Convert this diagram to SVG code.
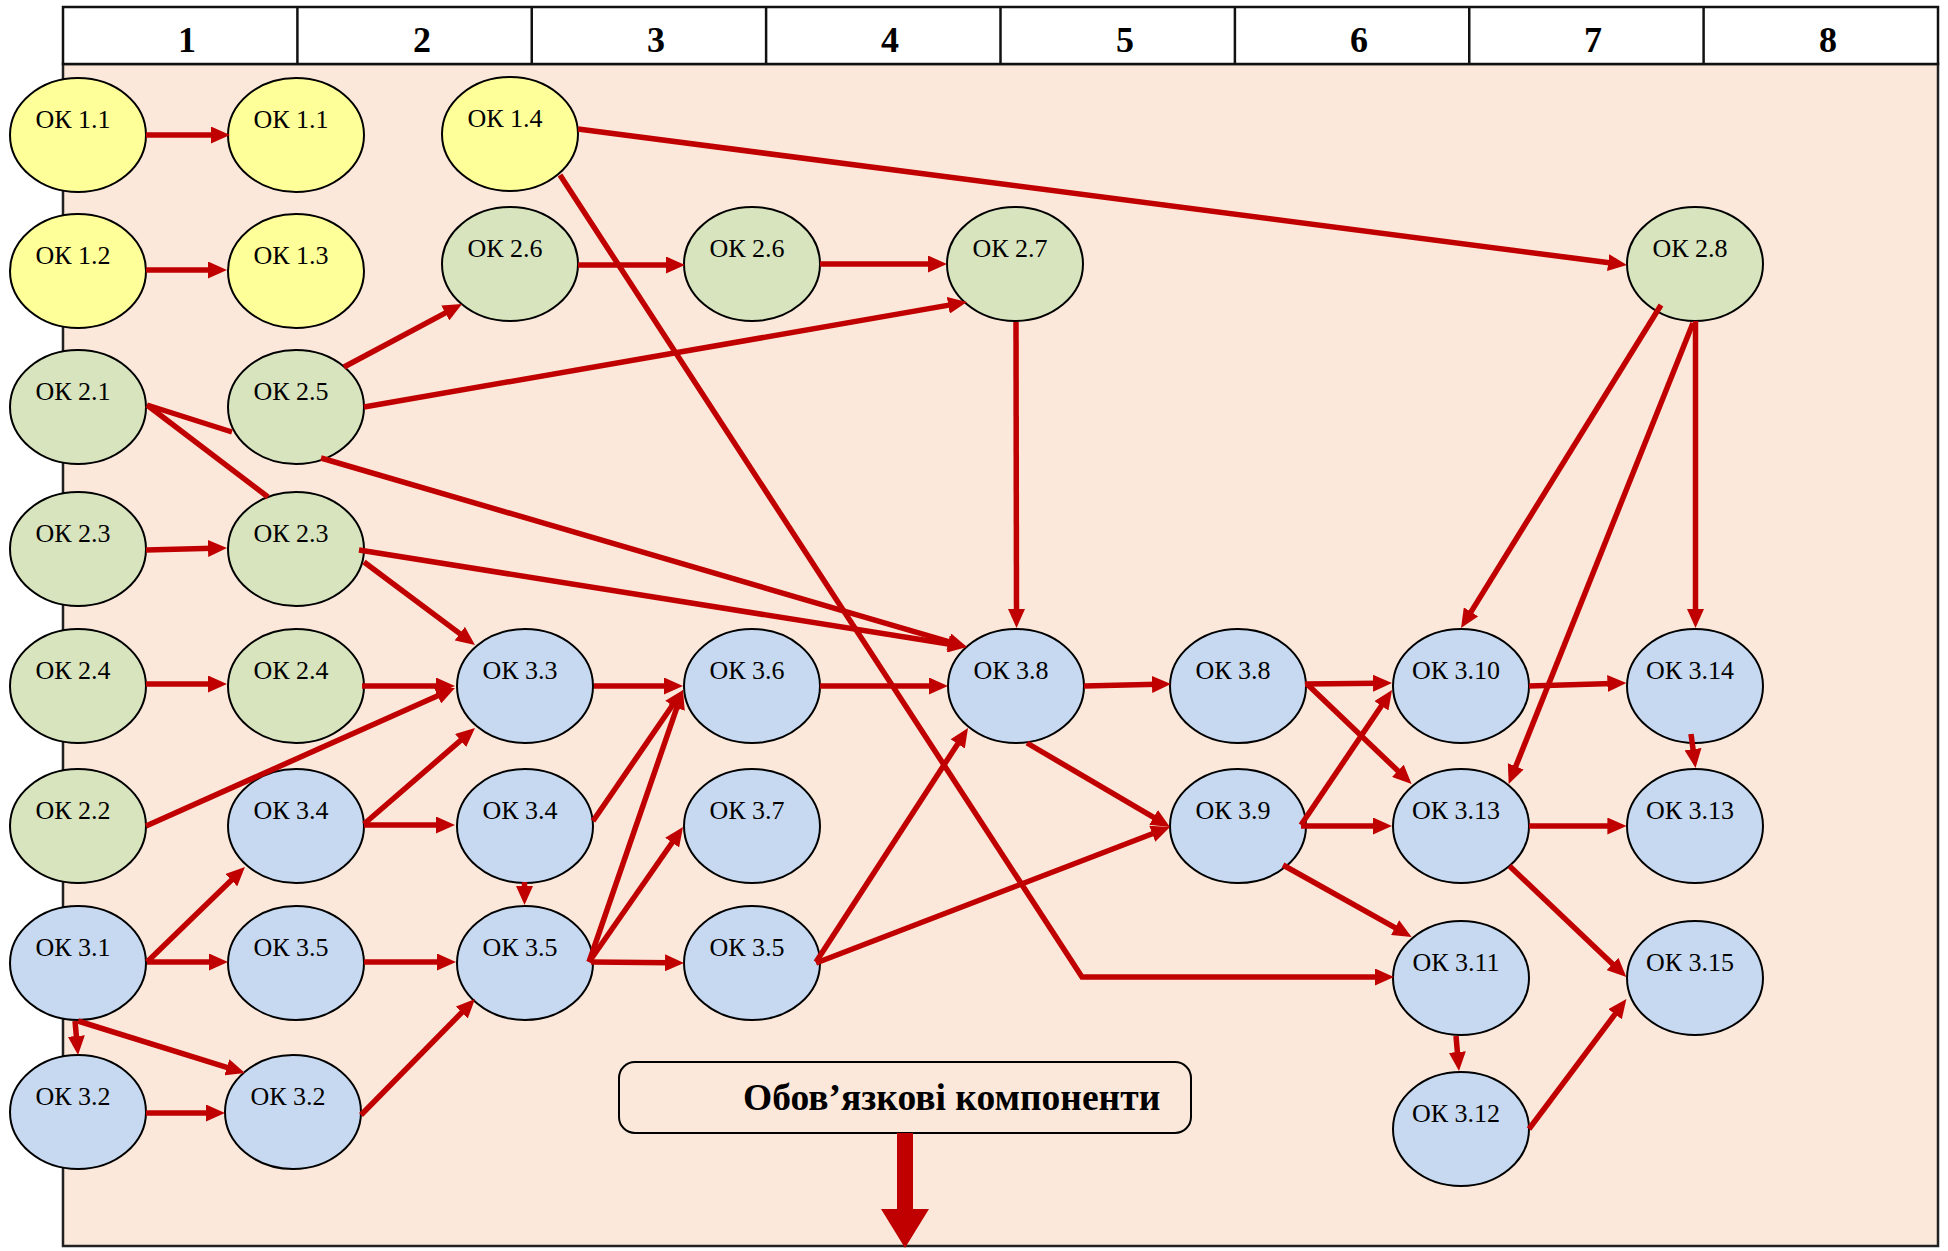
<svg xmlns="http://www.w3.org/2000/svg" width="1948" height="1251" viewBox="0 0 1948 1251">
<style>
.hdr{font-family:"Liberation Serif","Times New Roman",serif;font-size:36px;font-weight:bold;text-anchor:middle;fill:#000}
.lbl{font-family:"Liberation Serif","Times New Roman",serif;font-size:26px;text-anchor:middle;fill:#000}
.node ellipse{stroke:#000;stroke-width:2}
.y ellipse{fill:#FFFF99}
.g ellipse{fill:#D7E4BD}
.b ellipse{fill:#C6D9F1}
.c{fill:none;stroke:#C00000;stroke-width:5.5;stroke-linejoin:miter}
.a{marker-end:url(#ah)}
</style>
<defs>
<marker id="ah" markerUnits="userSpaceOnUse" markerWidth="19" markerHeight="17" refX="5" refY="8.5" orient="auto" viewBox="0 0 19 17">
<path d="M0,0 L19,8.5 L0,17 Z" fill="#C00000"/>
</marker>
</defs>
<rect x="0" y="0" width="1948" height="1251" fill="#fff"/>
<g id="table">
<rect x="63" y="64" width="1875" height="1182" fill="#FCE8DA" stroke="#222" stroke-width="2.5"/>
<rect x="63" y="7" width="1875" height="57" fill="#fff" stroke="#111" stroke-width="2.5"/>
<g stroke="#111" stroke-width="2.5">
<line x1="297.4" y1="7" x2="297.4" y2="64"/>
<line x1="531.75" y1="7" x2="531.75" y2="64"/>
<line x1="766.1" y1="7" x2="766.1" y2="64"/>
<line x1="1000.5" y1="7" x2="1000.5" y2="64"/>
<line x1="1234.9" y1="7" x2="1234.9" y2="64"/>
<line x1="1469.25" y1="7" x2="1469.25" y2="64"/>
<line x1="1703.6" y1="7" x2="1703.6" y2="64"/>
</g>
<text class="hdr" x="187" y="52">1</text>
<text class="hdr" x="422" y="52">2</text>
<text class="hdr" x="656" y="52">3</text>
<text class="hdr" x="890" y="52">4</text>
<text class="hdr" x="1125" y="52">5</text>
<text class="hdr" x="1359" y="52">6</text>
<text class="hdr" x="1593" y="52">7</text>
<text class="hdr" x="1828" y="52">8</text>
</g>
<g id="nodes">
<g id="a11" class="node y"><ellipse cx="78" cy="135" rx="68" ry="57"/><text class="lbl" x="73" y="128">ОК 1.1</text></g>
<g id="a12" class="node y"><ellipse cx="78" cy="271" rx="68" ry="57"/><text class="lbl" x="73" y="264">ОК 1.2</text></g>
<g id="a21" class="node g"><ellipse cx="78" cy="407" rx="68" ry="57"/><text class="lbl" x="73" y="400">ОК 2.1</text></g>
<g id="a23" class="node g"><ellipse cx="78" cy="549" rx="68" ry="57"/><text class="lbl" x="73" y="542">ОК 2.3</text></g>
<g id="a24" class="node g"><ellipse cx="78" cy="686" rx="68" ry="57"/><text class="lbl" x="73" y="679">ОК 2.4</text></g>
<g id="a22" class="node g"><ellipse cx="78" cy="826" rx="68" ry="57"/><text class="lbl" x="73" y="819">ОК 2.2</text></g>
<g id="a31" class="node b"><ellipse cx="78" cy="963" rx="68" ry="57"/><text class="lbl" x="73" y="956">ОК 3.1</text></g>
<g id="a32" class="node b"><ellipse cx="78" cy="1112" rx="68" ry="57"/><text class="lbl" x="73" y="1105">ОК 3.2</text></g>

<g id="b11" class="node y"><ellipse cx="296" cy="135" rx="68" ry="57"/><text class="lbl" x="291" y="128">ОК 1.1</text></g>
<g id="b13" class="node y"><ellipse cx="296" cy="271" rx="68" ry="57"/><text class="lbl" x="291" y="264">ОК 1.3</text></g>
<g id="b25" class="node g"><ellipse cx="296" cy="407" rx="68" ry="57"/><text class="lbl" x="291" y="400">ОК 2.5</text></g>
<g id="b23" class="node g"><ellipse cx="296" cy="549" rx="68" ry="57"/><text class="lbl" x="291" y="542">ОК 2.3</text></g>
<g id="b24" class="node g"><ellipse cx="296" cy="686" rx="68" ry="57"/><text class="lbl" x="291" y="679">ОК 2.4</text></g>
<g id="b34" class="node b"><ellipse cx="296" cy="826" rx="68" ry="57"/><text class="lbl" x="291" y="819">ОК 3.4</text></g>
<g id="b35" class="node b"><ellipse cx="296" cy="963" rx="68" ry="57"/><text class="lbl" x="291" y="956">ОК 3.5</text></g>
<g id="b32" class="node b"><ellipse cx="293" cy="1112" rx="68" ry="57"/><text class="lbl" x="288" y="1105">ОК 3.2</text></g>

<g id="c14" class="node y"><ellipse cx="510" cy="134" rx="68" ry="57"/><text class="lbl" x="505" y="127">ОК 1.4</text></g>
<g id="c26" class="node g"><ellipse cx="510" cy="264" rx="68" ry="57"/><text class="lbl" x="505" y="257">ОК 2.6</text></g>
<g id="c33" class="node b"><ellipse cx="525" cy="686" rx="68" ry="57"/><text class="lbl" x="520" y="679">ОК 3.3</text></g>
<g id="c34" class="node b"><ellipse cx="525" cy="826" rx="68" ry="57"/><text class="lbl" x="520" y="819">ОК 3.4</text></g>
<g id="c35" class="node b"><ellipse cx="525" cy="963" rx="68" ry="57"/><text class="lbl" x="520" y="956">ОК 3.5</text></g>

<g id="d26" class="node g"><ellipse cx="752" cy="264" rx="68" ry="57"/><text class="lbl" x="747" y="257">ОК 2.6</text></g>
<g id="d36" class="node b"><ellipse cx="752" cy="686" rx="68" ry="57"/><text class="lbl" x="747" y="679">ОК 3.6</text></g>
<g id="d37" class="node b"><ellipse cx="752" cy="826" rx="68" ry="57"/><text class="lbl" x="747" y="819">ОК 3.7</text></g>
<g id="d35" class="node b"><ellipse cx="752" cy="963" rx="68" ry="57"/><text class="lbl" x="747" y="956">ОК 3.5</text></g>

<g id="e27" class="node g"><ellipse cx="1015" cy="264" rx="68" ry="57"/><text class="lbl" x="1010" y="257">ОК 2.7</text></g>
<g id="e38" class="node b"><ellipse cx="1016" cy="686" rx="68" ry="57"/><text class="lbl" x="1011" y="679">ОК 3.8</text></g>

<g id="f38" class="node b"><ellipse cx="1238" cy="686" rx="68" ry="57"/><text class="lbl" x="1233" y="679">ОК 3.8</text></g>
<g id="f39" class="node b"><ellipse cx="1238" cy="826" rx="68" ry="57"/><text class="lbl" x="1233" y="819">ОК 3.9</text></g>

<g id="g310" class="node b"><ellipse cx="1461" cy="686" rx="68" ry="57"/><text class="lbl" x="1456" y="679">ОК 3.10</text></g>
<g id="g313" class="node b"><ellipse cx="1461" cy="826" rx="68" ry="57"/><text class="lbl" x="1456" y="819">ОК 3.13</text></g>
<g id="g311" class="node b"><ellipse cx="1461" cy="978" rx="68" ry="57"/><text class="lbl" x="1456" y="971">ОК 3.11</text></g>
<g id="g312" class="node b"><ellipse cx="1461" cy="1129" rx="68" ry="57"/><text class="lbl" x="1456" y="1122">ОК 3.12</text></g>

<g id="h28" class="node g"><ellipse cx="1695" cy="264" rx="68" ry="57"/><text class="lbl" x="1690" y="257">ОК 2.8</text></g>
<g id="h314" class="node b"><ellipse cx="1695" cy="686" rx="68" ry="57"/><text class="lbl" x="1690" y="679">ОК 3.14</text></g>
<g id="h313" class="node b"><ellipse cx="1695" cy="826" rx="68" ry="57"/><text class="lbl" x="1690" y="819">ОК 3.13</text></g>
<g id="h315" class="node b"><ellipse cx="1695" cy="978" rx="68" ry="57"/><text class="lbl" x="1690" y="971">ОК 3.15</text></g>

<g id="legend">
<rect x="619" y="1062" width="572" height="71" rx="16" ry="16" fill="#FCE8DA" stroke="#000" stroke-width="2"/>
<text x="743" y="1110" font-family="Liberation Serif, Times New Roman, serif" font-size="37.5" font-weight="bold" fill="#000">Обов’язкові компоненти</text>
</g>
</g>
<g id="connectors">
<path class="c a" d="M146,135 L216,135"/>
<path class="c a" d="M146,270 L213,270"/>
<path class="c a" d="M578,129 L1613.1,263.2"/>
<path class="c a" d="M560,175 L1082,977 L1380,977"/>
<path class="c a" d="M344,367 L449.7,310.6"/>
<path class="c a" d="M578,265 L671,265"/>
<path class="c a" d="M820,264 L933,264"/>
<path class="c a" d="M364,407 L953.2,304.4"/>
<path class="c a" d="M1016,322 L1016.5,614"/>
<path class="c" d="M147,405 L268,497"/>
<path class="c a" d="M147,405 L232,432 M321,458 L953.6,643.1"/>
<path class="c a" d="M359,550 L953.2,644.8"/>
<path class="c a" d="M146,550 L213,548.3"/>
<path class="c a" d="M364,562 L463.8,636.6"/>
<path class="c a" d="M146,684 L213,684"/>
<path class="c a" d="M362,686 L441,686"/>
<path class="c a" d="M146,826 L442.2,693.7"/>
<path class="c a" d="M364,824 L464.4,737.2"/>
<path class="c a" d="M364,825 L441,825"/>
<path class="c a" d="M594,686 L669,686"/>
<path class="c a" d="M593,821 L675.1,701.5"/>
<path class="c a" d="M524.5,882 L524.5,891"/>
<path class="c a" d="M589,962 L678.4,703.2"/>
<path class="c a" d="M589,962 L675,838.5"/>
<path class="c a" d="M591,962 L670,962.8"/>
<path class="c a" d="M147,962 L234.9,876.7"/>
<path class="c a" d="M147,962 L214,962"/>
<path class="c a" d="M364,962 L442,962"/>
<path class="c a" d="M75,1021 L76.8,1041"/>
<path class="c a" d="M78,1021 L231.6,1068.8"/>
<path class="c a" d="M146,1113 L211,1113"/>
<path class="c a" d="M361,1115 L465.2,1009"/>
<path class="c a" d="M820,686 L934,686"/>
<path class="c a" d="M816,962 L960.4,739.7"/>
<path class="c a" d="M816,963 L1156.9,832"/>
<path class="c a" d="M1084,686 L1157,684.3"/>
<path class="c a" d="M1027,743 L1157.9,819.9"/>
<path class="c a" d="M1305,684 L1378,683.2"/>
<path class="c a" d="M1307,684 L1401.5,774.3"/>
<path class="c a" d="M1301,825 L1384.2,701.7"/>
<path class="c a" d="M1301,826 L1378,826"/>
<path class="c a" d="M1283,865 L1399.4,930.1"/>
<path class="c a" d="M1661,305 L1468.4,616.1"/>
<path class="c a" d="M1693,323 L1513.9,771"/>
<path class="c a" d="M1695.5,321 L1695.5,614"/>
<path class="c a" d="M1529,686 L1612.4,683.4"/>
<path class="c a" d="M1691,734 L1693.7,754.1"/>
<path class="c a" d="M1529,826 L1612.4,826"/>
<path class="c a" d="M1509.5,866 L1616.2,967.4"/>
<path class="c a" d="M1456,1036 L1457.8,1057"/>
<path class="c a" d="M1529,1129 L1618,1010.2"/>
<path d="M897,1133 L913,1133 L913,1209 L929,1209 L905,1248 L881,1209 L897,1209 Z" fill="#C00000"/>
</g>
</svg>
